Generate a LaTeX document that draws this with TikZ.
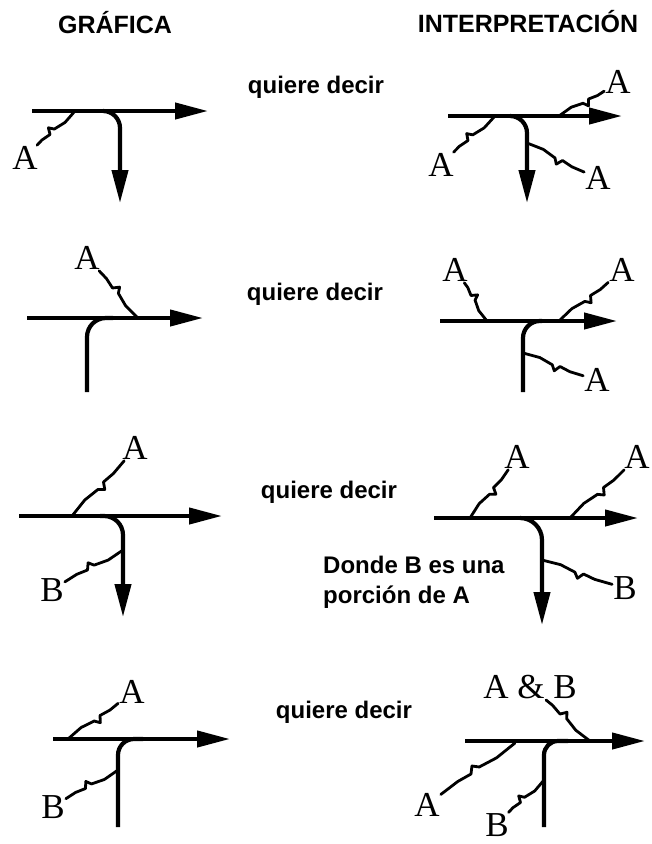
\documentclass[tikz,border=0pt]{standalone}
\usepackage{fontspec}
\setmainfont{Liberation Serif}
\setsansfont{Liberation Sans}
\usepackage{tikz}
\usetikzlibrary{arrows.meta, calc}

% wavy lead from a label (node) to a point on a line
\newcommand{\squig}[2]{%
  \draw[squig] (#1)
    -- ($($(#1)!.36!(#2)$)!1.5pt!90:(#2)$)
    -- ($(#1)!.5!(#2)$)
    -- ($($(#1)!.55!(#2)$)!6pt!90:(#2)$)
    -- ($($(#1)!.6!(#2)$)!1pt!90:(#2)$)
    -- ($($(#1)!.78!(#2)$)!-1.5pt!90:(#2)$)
    -- (#2);}

\begin{document}
\begin{tikzpicture}[x=1pt, y=-1pt,
    pipe/.style={line width=4.2pt},
    flow/.style={pipe, -{Triangle[length=33pt, width=16pt]}},
    squig/.style={line width=2.8pt, line join=round, line cap=round},
    lbl/.style={font=\fontsize{35}{35}\selectfont, inner sep=1pt},
    txt/.style={font=\sffamily\bfseries\fontsize{24}{28}\selectfont, inner sep=0pt},
    head/.style={txt, font=\sffamily\bfseries\fontsize{25}{28}\selectfont}]
  \useasboundingbox (0,0) rectangle (652,844);

  % headers
  \node[head, anchor=base] (hgraf) at (115,33) {GRÁFICA};
  \node[head, anchor=base] (hint) at (528,32) {INTERPRETACIÓN};

  % row 1 -- split
  \coordinate (g1w) at (32,111);  \coordinate (g1e) at (208,111);
  \coordinate (g1k) at (103,111); \coordinate (g1d) at (120,203);
  \coordinate (g1p) at (75,111);
  \node[lbl] (g1A) at (25,158) {A};
  \draw[flow] (g1w) -- (g1e);
  \draw[flow, rounded corners=17pt] (g1k) -| (g1d);
  \squig{g1A}{g1p}

  \node[txt, anchor=base] (q1) at (316,93) {quiere decir};

  \coordinate (i1w) at (448,116); \coordinate (i1e) at (622,116);
  \coordinate (i1k) at (510,116); \coordinate (i1d) at (527,203);
  \coordinate (i1p) at (559,116); \coordinate (i1q) at (495,116);
  \coordinate (i1r) at (527,143);
  \node[lbl] (i1A) at (618,82) {A};
  \node[lbl] (i1B) at (441,165) {A};
  \node[lbl] (i1C) at (598,178) {A};
  \draw[flow] (i1w) -- (i1e);
  \draw[flow, rounded corners=17pt] (i1k) -| (i1d);
  \squig{i1A}{i1p} \squig{i1B}{i1q} \squig{i1C}{i1r}

  % row 2 -- merge
  \coordinate (g2w) at (27,318);  \coordinate (g2e) at (203,318);
  \coordinate (g2u) at (87,392);  \coordinate (g2k) at (113,318);
  \coordinate (g2p) at (138,318);
  \node[lbl] (g2A) at (87,258) {A};
  \draw[flow] (g2w) -- (g2e);
  \draw[pipe, rounded corners=19pt] (g2u) |- (g2k);
  \squig{g2A}{g2p}

  \node[txt, anchor=base] (q2) at (315,300) {quiere decir};

  \coordinate (i2w) at (440,321); \coordinate (i2e) at (617,321);
  \coordinate (i2u) at (523,392); \coordinate (i2k) at (542,321);
  \coordinate (i2p) at (487,321); \coordinate (i2q) at (559,321);
  \coordinate (i2r) at (523,353);
  \node[lbl] (i2A) at (455,270) {A};
  \node[lbl] (i2B) at (622,270) {A};
  \node[lbl] (i2C) at (597,380) {A};
  \draw[flow] (i2w) -- (i2e);
  \draw[pipe, rounded corners=17pt] (i2u) |- (i2k);
  \squig{i2A}{i2p} \squig{i2B}{i2q} \squig{i2C}{i2r}

  % row 3 -- split with a portion
  \coordinate (g3w) at (19,516);  \coordinate (g3e) at (222,516);
  \coordinate (g3k) at (100,516); \coordinate (g3d) at (123,617);
  \coordinate (g3p) at (72,516);  \coordinate (g3q) at (123,550);
  \node[lbl] (g3A) at (135,448) {A};
  \node[lbl] (g3B) at (52,590) {B};
  \draw[flow] (g3w) -- (g3e);
  \draw[flow, rounded corners=19pt] (g3k) -| (g3d);
  \squig{g3A}{g3p} \squig{g3B}{g3q}

  \node[txt, anchor=base] (q3) at (329,498) {quiere decir};
  \node[txt, anchor=base west] (don1) at (323,573) {Donde B es una};
  \node[txt, anchor=base west] (don2) at (323,603) {porción de A};

  \coordinate (i3w) at (434,518); \coordinate (i3e) at (638,518);
  \coordinate (i3k) at (520,518); \coordinate (i3d) at (542,625);
  \coordinate (i3p) at (470,518); \coordinate (i3q) at (570,518);
  \coordinate (i3r) at (542,560);
  \node[lbl] (i3A) at (517,457) {A};
  \node[lbl] (i3B) at (637,457) {A};
  \node[lbl] (i3C) at (625,588) {B};
  \draw[flow] (i3w) -- (i3e);
  \draw[flow, rounded corners=22pt] (i3k) -| (i3d);
  \squig{i3A}{i3p} \squig{i3B}{i3q} \squig{i3C}{i3r}

  % row 4 -- merge of two
  \coordinate (g4w) at (53,739);  \coordinate (g4e) at (230,739);
  \coordinate (g4u) at (118,827); \coordinate (g4k) at (143,739);
  \coordinate (g4p) at (68,739);  \coordinate (g4q) at (118,770);
  \node[lbl] (g4A) at (132,692) {A};
  \node[lbl] (g4B) at (53,807) {B};
  \draw[flow] (g4w) -- (g4e);
  \draw[pipe, rounded corners=16pt] (g4u) |- (g4k);
  \squig{g4A}{g4p} \squig{g4B}{g4q}

  \node[txt, anchor=base] (q4) at (344,718) {quiere decir};

  \coordinate (i4w) at (465,741); \coordinate (i4e) at (645,741);
  \coordinate (i4u) at (544,827); \coordinate (i4k) at (568,741);
  \coordinate (i4p) at (590,741); \coordinate (i4q) at (515,743);
  \coordinate (i4r) at (544,780);
  \node[lbl] (i4A) at (530,687) {A \& B};
  \node[lbl] (i4B) at (427,805) {A};
  \node[lbl] (i4C) at (497,825) {B};
  \draw[flow] (i4w) -- (i4e);
  \draw[pipe, rounded corners=14pt] (i4u) |- (i4k);
  \squig{i4A}{i4p} \squig{i4B}{i4q} \squig{i4C}{i4r}
\end{tikzpicture}
\end{document}
